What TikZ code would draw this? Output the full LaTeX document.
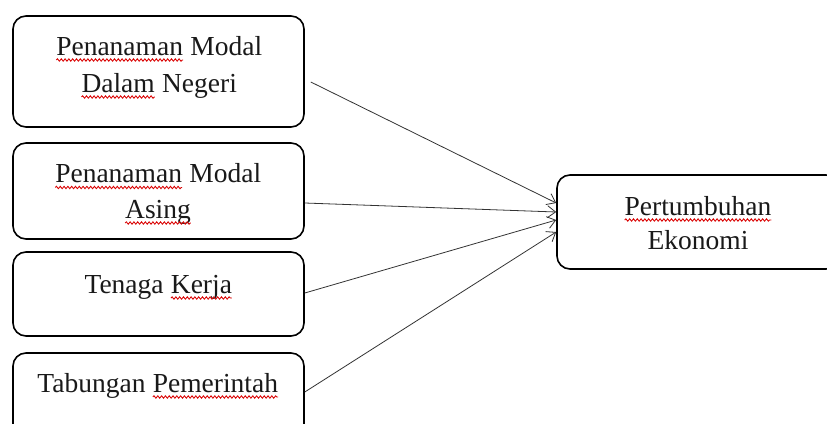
\documentclass[tikz,border=0pt]{standalone}
\usepackage{fontspec}
\setmainfont{Liberation Serif}
\usetikzlibrary{arrows.meta,decorations.pathmorphing}
\newcommand\wv[1]{\tikz[baseline=(w.base)]{\node[inner sep=0pt,outer sep=0pt,anchor=base](w){#1};\draw[red!85!black,line width=0.85pt,decorate,decoration={snake,amplitude=1.2pt,segment length=3.8pt}]([yshift=-5pt]w.base west)--([yshift=-5pt]w.base east);}}
\tikzset{
  box/.style={draw=black,line width=1.6pt,rounded corners=13pt,inner sep=0pt,minimum width=291pt},
  lbl/.style={inner sep=0pt,align=center,anchor=base,font=\fontsize{27.5}{35.5}\selectfont,text=black!90},
  conn/.style={draw=black!80,line width=0.8pt,-{Straight Barb[length=8pt,width=12pt]}}
}
\begin{document}
\begin{tikzpicture}[x=1pt,y=-1pt]
\useasboundingbox (0,0) rectangle (827,423);
\clip (0,0) rectangle (827,423);
\node[box,minimum height=111pt] (b1) at (158.5,71.5) {};
\node[box,minimum height=96pt] (b2) at (158.5,191) {};
\node[box,minimum height=84pt] (b3) at (158.5,294) {};
\node[box,minimum height=84pt] (b4) at (158.5,395) {};
\node[box,minimum width=282pt,minimum height=94pt] (b5) at (698,222) {};
\node[lbl,font=\fontsize{27.5}{37}\selectfont] (t1) at (159,92) {\wv{Penanaman} Modal\\\wv{Dalam} Negeri};
\node[lbl] (t2) at (158,218) {\wv{Penanaman} Modal\\\wv{Asing}};
\node[lbl] (t3) at (158.5,293) {Tenaga \wv{Kerja}};
\node[lbl] (t4) at (158,392) {Tabungan \wv{Pemerintah}};
\node[lbl,font=\fontsize{27.5}{34}\selectfont] (t5) at (698,249) {\wv{Pertumbuhan}\\Ekonomi};
\draw[conn] ([xshift=6pt,yshift=-10.5pt]b1.east) -- ([yshift=19pt]b5.west);
\draw[conn] ([yshift=-12pt]b2.east) -- ([yshift=10pt]b5.west);
\draw[conn] ([yshift=1pt]b3.east) -- ([yshift=2pt]b5.west);
\draw[conn] ([yshift=3pt]b4.east) -- ([yshift=-10pt]b5.west);
\end{tikzpicture}
\end{document}
